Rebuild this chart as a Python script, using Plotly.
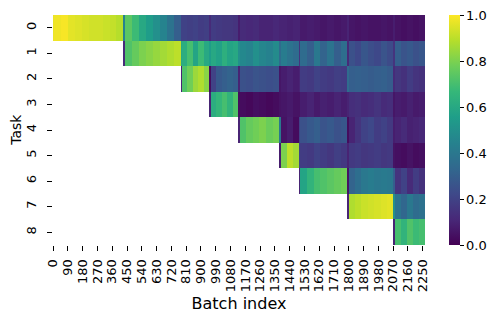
import plotly.graph_objects as go

# batch index where each task starts, and total number of batches
task_start = [0, 428, 777, 951, 1128, 1377, 1497, 1791, 2071]
n_batches = 2264

# sub-cells per training phase (phase k = while task k is trained)
phase_cells = [10, 8, 5, 5, 6, 3, 7, 7, 5]

# accuracy of each task per phase: [first batch, then values along the phase]
task0 = [[0.97, 0.98, 0.99, 0.96, 0.95, 0.94, 0.93, 0.93, 0.92, 0.91, 0.89],
         [0.45, 0.74, 0.68, 0.60, 0.55, 0.50, 0.45, 0.38, 0.30],
         [0.20, 0.20, 0.19, 0.20, 0.18, 0.19],
         [0.12, 0.18, 0.17, 0.16, 0.16, 0.15],
         [0.08, 0.12, 0.11, 0.12, 0.10, 0.10, 0.11],
         [0.10, 0.10, 0.09, 0.10],
         [0.10, 0.07, 0.08, 0.07, 0.06, 0.07, 0.06, 0.07],
         [0.10, 0.06, 0.05, 0.06, 0.05, 0.05, 0.06, 0.05],
         [0.08, 0.05, 0.04, 0.05, 0.04, 0.05]]
task1 = [None,
         [0.12, 0.72, 0.76, 0.80, 0.82, 0.84, 0.86, 0.88, 0.90],
         [0.60, 0.62, 0.70, 0.58, 0.68, 0.60],
         [0.55, 0.60, 0.57, 0.63, 0.58, 0.60],
         [0.50, 0.47, 0.45, 0.50, 0.46, 0.44, 0.48],
         [0.35, 0.42, 0.38, 0.35],
         [0.15, 0.35, 0.30, 0.40, 0.32, 0.38, 0.30, 0.36],
         [0.12, 0.25, 0.22, 0.27, 0.24, 0.22, 0.26, 0.23],
         [0.15, 0.30, 0.26, 0.28, 0.25, 0.27]]
task2 = [None, None,
         [0.10, 0.72, 0.78, 0.85, 0.88, 0.82],
         [0.03, 0.20, 0.28, 0.30, 0.32, 0.30],
         [0.10, 0.25, 0.24, 0.26, 0.25, 0.24, 0.25],
         [0.06, 0.08, 0.10, 0.08],
         [0.10, 0.18, 0.17, 0.20, 0.18, 0.17, 0.19, 0.18],
         [0.35, 0.30, 0.31, 0.30, 0.29, 0.30, 0.31, 0.29],
         [0.12, 0.16, 0.14, 0.18, 0.15, 0.14]]
task3 = [None, None, None,
         [0.10, 0.62, 0.66, 0.70, 0.65, 0.72],
         [0.03, 0.03, 0.02, 0.04, 0.03, 0.02, 0.03],
         [0.05, 0.06, 0.07, 0.05],
         [0.05, 0.08, 0.10, 0.07, 0.09, 0.08, 0.10, 0.08],
         [0.10, 0.13, 0.14, 0.12, 0.13, 0.15, 0.12, 0.13],
         [0.06, 0.08, 0.07, 0.09, 0.07, 0.08]]
task4 = [None, None, None, None,
         [0.10, 0.72, 0.76, 0.78, 0.80, 0.77, 0.79],
         [0.40, 0.05, 0.08, 0.03],
         [0.20, 0.25, 0.28, 0.30, 0.26, 0.28, 0.25, 0.27],
         [0.03, 0.10, 0.15, 0.20, 0.22, 0.18, 0.20, 0.17],
         [0.08, 0.10, 0.12, 0.09, 0.10, 0.11]]
task5 = [None, None, None, None, None,
         [0.08, 0.80, 0.90, 0.86],
         [0.20, 0.18, 0.17, 0.20, 0.18, 0.16, 0.19, 0.17],
         [0.10, 0.17, 0.18, 0.16, 0.17, 0.18, 0.16, 0.17],
         [0.05, 0.04, 0.03, 0.05, 0.03, 0.04]]
task6 = [None, None, None, None, None, None,
         [0.10, 0.58, 0.65, 0.70, 0.72, 0.74, 0.76, 0.78],
         [0.05, 0.32, 0.36, 0.40, 0.42, 0.40, 0.41, 0.40],
         [0.30, 0.15, 0.20, 0.12, 0.18, 0.14]]
task7 = [None, None, None, None, None, None, None,
         [0.10, 0.88, 0.90, 0.92, 0.93, 0.94, 0.95, 0.96],
         [0.50, 0.38, 0.33, 0.40, 0.35, 0.37]]
task8 = [None, None, None, None, None, None, None, None,
         [0.10, 0.70, 0.65, 0.72, 0.68, 0.70]]

tasks = [task0, task1, task2, task3, task4, task5, task6, task7, task8]
x_ticks = list(range(0, 2251, 90))

# cell edges: a narrow first-batch column, then equal sub-cells per phase
first_w = 8
bounds = task_start + [n_batches]
edges = []
for k in range(len(task_start)):
    a, b = bounds[k], bounds[k + 1]
    edges.append(a)
    a2 = a + first_w
    n = phase_cells[k]
    for j in range(n):
        edges.append(a2 + (b - a2) * j / n)
edges.append(n_batches)

z = []
for t in tasks:
    row = []
    for k, seg in enumerate(t):
        if seg is None:
            row += [None] * (phase_cells[k] + 1)
        else:
            row += seg
    z.append(row)

fig = go.Figure()
fig.add_trace(
    go.Heatmap(
        z=z,
        x=edges,
        y=list(range(len(tasks))),
        colorscale="Viridis",
        zmin=0,
        zmax=1,
        hoverinfo="skip",
        colorbar=dict(
            x=1.0645,
            xanchor="left",
            xpad=0,
            y=0.5,
            yanchor="middle",
            ypad=0,
            len=1,
            thickness=11,
            outlinewidth=0,
            ticks="outside",
            ticklen=4,
            tickwidth=1,
            tickcolor="black",
            tickvals=[0, 0.2, 0.4, 0.6, 0.8, 1.0],
            ticktext=["0.0", "0.2", "0.4", "0.6", "0.8", "1.0"],
            tickfont=dict(size=13),
        ),
    )
)

fig.update_layout(
    width=501,
    height=321,
    margin=dict(l=53, r=76, t=15, b=76, autoexpand=False),
    paper_bgcolor="white",
    plot_bgcolor="white",
    font=dict(family="DejaVu Sans", size=13, color="black"),
    xaxis=dict(
        range=[0, n_batches],
        tickvals=[v + 0.5 for v in x_ticks],
        ticktext=[str(v) for v in x_ticks],
        tickangle=-90,
        ticks="outside",
        ticklen=5,
        tickwidth=1,
        tickcolor="black",
        ticklabelstandoff=3,
        showgrid=False,
        zeroline=False,
        showline=False,
        automargin=False,
        title=dict(text="Batch index", standoff=6),
    ),
    yaxis=dict(
        range=[len(tasks) - 0.5, -0.5],
        tickvals=list(range(len(tasks))),
        ticktext=[str(i) for i in range(len(tasks))],
        tickangle=-90,
        ticks="outside",
        ticklen=5,
        tickwidth=1,
        tickcolor="black",
        ticklabelstandoff=6,
        showgrid=False,
        zeroline=False,
        showline=False,
        automargin=False,
    ),
    annotations=[
        dict(
            text="Task",
            textangle=-90,
            xref="paper",
            yref="paper",
            x=-0.1,
            y=0.5,
            xanchor="center",
            yanchor="middle",
            showarrow=False,
            font=dict(family="DejaVu Sans", size=14, color="black"),
        )
    ],
)

fig.write_html(
    "out.html",
    config={"displayModeBar": False},
    post_script="document.body.style.margin = '0px';",
)
